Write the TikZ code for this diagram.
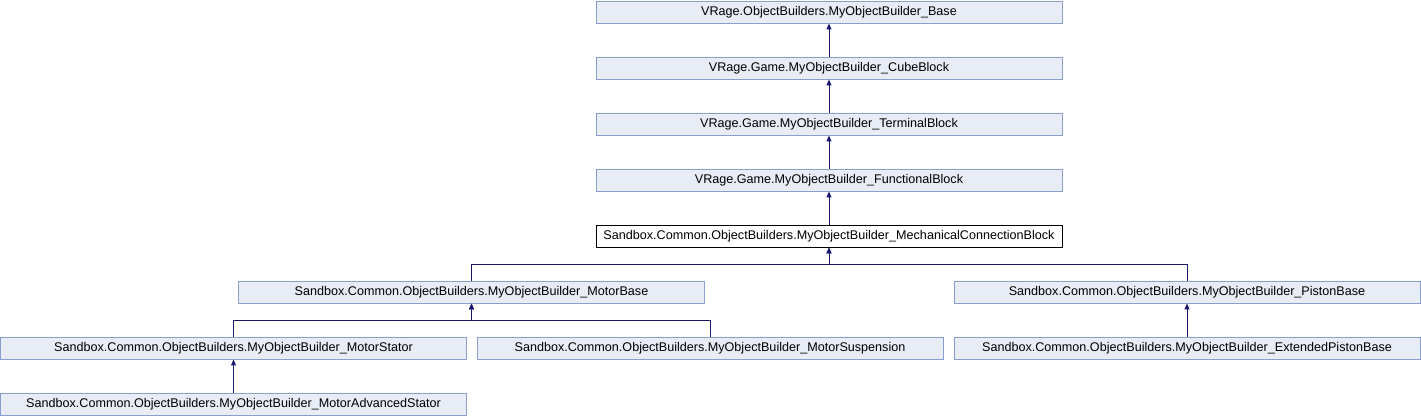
\documentclass[tikz,border=0pt]{standalone}
\usepackage{fontspec}
\setmainfont{Liberation Sans}
\usetikzlibrary{arrows.meta}
\definecolor{boxfill}{HTML}{E8ECF5}
\definecolor{boxline}{HTML}{8A9ECF}
\definecolor{arrowc}{HTML}{191970}
\tikzset{
  cls/.style={draw=boxline, fill=boxfill, line width=0.9pt, minimum width=466pt, minimum height=22pt, inner sep=0pt, font=\fontsize{12.6}{14}\selectfont},
  cur/.style={cls, draw=black, fill=white},
  inh/.style={draw=arrowc, line width=1pt, -{Triangle[length=6pt,width=5pt]}}
}
\begin{document}
\begin{tikzpicture}[x=1pt,y=-1pt]
\useasboundingbox (0,0) rectangle (1421,416);
\node[cls] (base) at (829,12) {VRage.ObjectBuilders.MyObjectBuilder\_Base};
\node[cls] (cube) at (829,68) {VRage.Game.MyObjectBuilder\_CubeBlock};
\node[cls] (term) at (829,124) {VRage.Game.MyObjectBuilder\_TerminalBlock};
\node[cls] (func) at (829,180) {VRage.Game.MyObjectBuilder\_FunctionalBlock};
\node[cur] (mech) at (829,236) {Sandbox.Common.ObjectBuilders.MyObjectBuilder\_MechanicalConnectionBlock};
\node[cls] (motor) at (471.5,292) {Sandbox.Common.ObjectBuilders.MyObjectBuilder\_MotorBase};
\node[cls] (piston) at (1187,292) {Sandbox.Common.ObjectBuilders.MyObjectBuilder\_PistonBase};
\node[cls] (stator) at (233.5,348) {Sandbox.Common.ObjectBuilders.MyObjectBuilder\_MotorStator};
\node[cls] (susp) at (710,348) {Sandbox.Common.ObjectBuilders.MyObjectBuilder\_MotorSuspension};
\node[cls] (ext) at (1187,348) {Sandbox.Common.ObjectBuilders.MyObjectBuilder\_ExtendedPistonBase};
\node[cls] (adv) at (233.5,404) {Sandbox.Common.ObjectBuilders.MyObjectBuilder\_MotorAdvancedStator};
\coordinate (j1) at (829,264);
\coordinate (j2) at (471.5,320);
\draw[inh] (cube) -- (base);
\draw[inh] (term) -- (cube);
\draw[inh] (func) -- (term);
\draw[inh] (mech) -- (func);
\draw[inh] (motor.north) |- (j1) -- (mech.south);
\draw[inh] (piston.north) |- (j1) -- (mech.south);
\draw[inh] (stator.north) |- (j2) -- (motor.south);
\draw[inh] (susp.north) |- (j2) -- (motor.south);
\draw[inh] (ext) -- (piston);
\draw[inh] (adv) -- (stator);
\end{tikzpicture}
\end{document}
